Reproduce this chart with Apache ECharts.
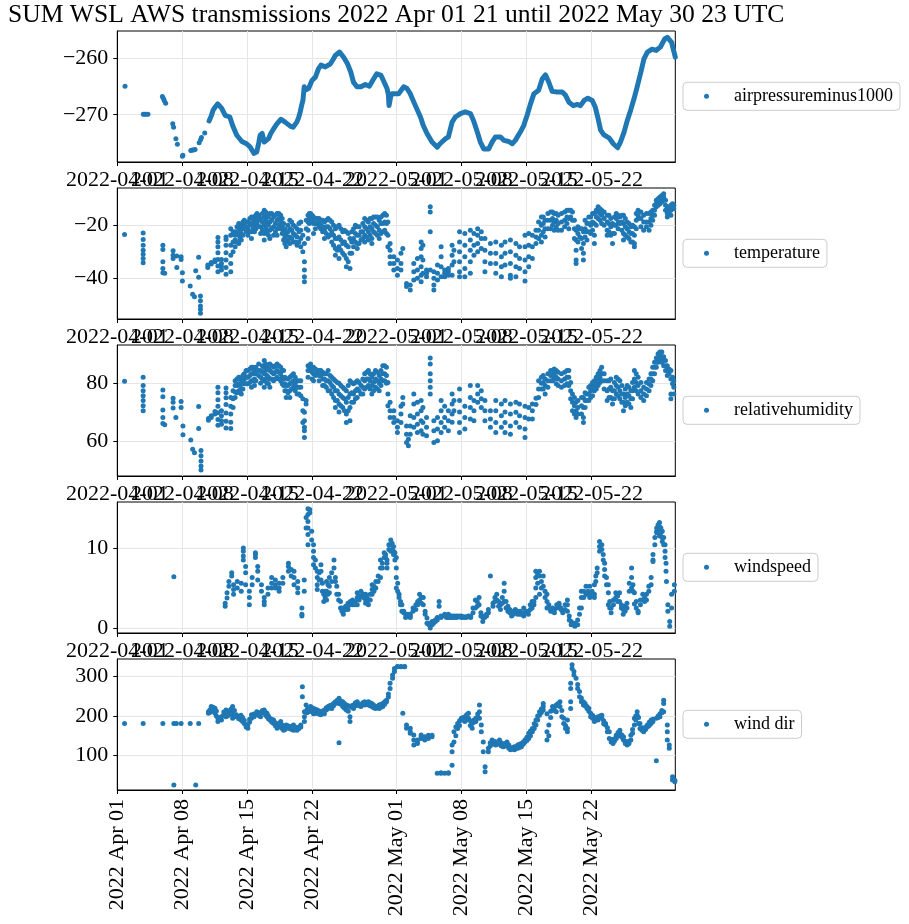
<!DOCTYPE html>
<html>
<head>
<meta charset="utf-8">
<script src="https://cdn.jsdelivr.net/npm/echarts@6/dist/echarts.min.js"></script>
<style>
html,body{margin:0;padding:0;background:#fff;}
#chart{width:909px;height:924px;}
</style>
</head>
<body>
<div id="chart"></div>
<script>
// ---------- DATA (days since 2022-04-01 00:00 UTC) ----------
const titleText = 'SUM WSL AWS transmissions 2022 Apr 01 21 until 2022 May 30 23 UTC';
const tickDays = [0, 7, 14, 21, 30, 37, 44, 51];
const tickLabelsDash = ['2022-04-01','2022-04-08','2022-04-15','2022-04-22','2022-05-01','2022-05-08','2022-05-15','2022-05-22'];
const tickLabelsBottom = ['2022 Apr 01','2022 Apr 08','2022 Apr 15','2022 Apr 22','2022 May 01','2022 May 08','2022 May 15','2022 May 22'];
const seriesNames = ['airpressureminus1000','temperature','relativehumidity','windspeed','wind dir'];

// pressure: sparse early readings [day, value]
const pressureSparse = [
[0.83,-265.0],[2.8,-269.9],[2.95,-269.9],[3.1,-269.9],[3.3,-269.9],[4.85,-266.8],[4.95,-267.1],[5.05,-267.5],[5.2,-268.0],
[5.96,-271.6],[6.05,-272.2],[6.3,-274.2],[6.46,-275.2],[7.0,-277.3],[7.05,-277.1],[7.9,-276.3],[8.05,-276.2],[8.2,-276.2],
[8.36,-276.1],[8.8,-274.9],[8.95,-274.4],[9.05,-274.0],[9.4,-273.2]
];
// pressure: continuous hourly stretch [day, value]
const pressureTrace = [
[9.87,-271.1],[10.1,-270.2],[10.3,-269.2],[10.55,-268.6],[10.8,-268.1],[11.0,-268.4],[11.23,-268.9],[11.6,-270.1],[12.1,-270.4],
[12.4,-271.9],[12.85,-273.6],[13.4,-274.7],[13.9,-275.1],[14.3,-275.7],[14.7,-276.8],[14.85,-277.0],[15.0,-276.5],[15.2,-275.0],
[15.36,-273.6],[15.58,-273.3],[15.8,-274.8],[16.0,-274.6],[16.26,-274.2],[16.5,-273.3],[16.8,-272.5],[17.16,-271.6],[17.6,-270.8],
[17.8,-270.9],[18.05,-271.3],[18.6,-272.0],[18.9,-272.2],[19.3,-271.3],[19.5,-270.5],[19.67,-269.5],[19.8,-268.5],[19.96,-267.5],
[20.1,-265.1],[20.3,-265.6],[20.57,-265.4],[20.93,-264.0],[21.3,-263.4],[21.64,-261.9],[21.9,-261.3],[22.36,-261.6],[22.9,-261.1],
[23.2,-260.3],[23.44,-259.6],[23.9,-259.0],[24.1,-259.3],[24.34,-259.9],[24.77,-261.1],[25.1,-262.5],[25.4,-264.3],[25.77,-265.1],
[26.2,-265.1],[26.67,-264.7],[27.1,-265.0],[27.57,-263.7],[27.9,-262.8],[28.1,-262.9],[28.36,-263.1],[28.7,-264.3],[29.0,-265.4],
[29.15,-266.5],[29.22,-268.4],[29.3,-268.2],[29.4,-266.8],[29.54,-266.3],[29.9,-266.3],[30.25,-266.3],[30.8,-265.1],[31.15,-265.4],
[31.5,-266.3],[32.05,-268.4],[32.6,-270.4],[32.9,-271.9],[33.3,-273.3],[33.84,-274.8],[34.4,-275.7],[34.7,-275.1],[35.3,-274.2],
[35.6,-273.9],[36.0,-271.3],[36.35,-270.4],[36.9,-269.8],[37.4,-269.5],[37.97,-269.8],[38.3,-271.0],[38.7,-273.0],[39.04,-274.8],
[39.4,-276.0],[39.94,-276.0],[40.3,-274.8],[40.66,-273.9],[41.2,-273.9],[41.56,-274.5],[42.1,-274.7],[42.46,-275.1],[42.8,-274.5],
[43.35,-273.0],[43.7,-271.9],[44.07,-270.1],[44.43,-268.1],[44.8,-266.3],[45.3,-265.7],[45.7,-263.7],[46.04,-263.0],[46.4,-264.3],
[46.76,-265.9],[47.3,-266.0],[47.84,-266.0],[48.2,-266.6],[48.56,-267.8],[49.03,-268.4],[49.45,-268.2],[49.8,-268.4],[50.2,-267.5],
[50.6,-267.1],[51.07,-267.5],[51.4,-268.7],[51.7,-270.7],[51.97,-272.7],[52.3,-273.5],[52.9,-274.1],[53.33,-275.1],[53.8,-275.8],
[54.1,-274.8],[54.5,-273.0],[54.84,-271.0],[55.2,-269.2],[55.56,-267.2],[55.9,-265.1],[56.3,-262.5],[56.63,-260.2],[57.0,-259.0],
[57.5,-258.5],[57.96,-258.7],[58.4,-258.1],[58.86,-256.7],[59.15,-256.4],[59.6,-257.3],[60.0,-259.9]
];

// scatter panels: [day, reading, reading, ...]
const temperatureCols = [
[0.78,-23.5],[2.78,-22.9,-25.4,-27.5,-29.4,-30.9,-32.5,-34.1],[4.9,-27.5,-29.1,-33.8,-36.3,-37.9],[5.1,-38.1],
[6.0,-29.6,-31.3,-32.5],[6.4,-31.6,-35.9],[6.86,-31.9,-32.9],[7.0,-37.9,-41.0],[7.84,-42.9],[8.1,-46.0],[8.3,-46.9],
[8.43,-37.1],[8.75,-32.1,-39.6],[8.94,-46.6,-48.4,-50.4,-51.6,-53.1],[9.73,-35.9,-35.0],[10.1,-34.6,-34.0],[10.5,-33.8,-33.1],
[10.82,-24.6,-26.3,-28.1,-30.4,-32.9,-35.4,-37.5],[11.2,-32.9,-34.4,-35.6,-36.9],[11.69,-24.4,-25.4,-27.5,-30.4,-33.1,-35.9,-38.5],
[12.2,-21.3,-23.8,-27.5,-31.3,-34.4,-37.5],[12.67,-22.5,-23.8,-25.6,-28.1],[13.06,-19.4,-21.3,-23.8,-26.9],[13.33,-20.6,-23.1,-25.6],
[13.65,-18.1,-19.4,-20.6],[14.04,-18.8,-21.3,-23.8],[14.43,-16.9,-19.4,-22.5,-25.0],[14.75,-17.5,-20.0,-22.5],[15.02,-15.6,-16.9,-19.4],
[15.41,-17.5,-20.6,-23.1],[15.8,-14.4,-16.9,-20.0,-23.1,-25.6],[16.1,-16.3,-19.4,-22.5],[16.4,-15.6,-18.8,-21.9,-25.0],
[16.8,-16.9,-20.6,-23.8],[17.18,-15.6,-18.1,-21.3,-23.8],[17.57,-16.3,-18.8,-21.3],[17.88,-19.4,-22.5,-25.6],[18.16,-23.8,-26.3,-28.1],
[18.55,-18.1,-21.3,-24.4,-26.9],[18.94,-20.0,-23.1,-26.3],[19.33,-21.3,-24.4,-27.5],[19.73,-18.8,-21.9,-25.0,-28.1],
[20.12,-26.9,-33.8,-36.9,-39.4,-41.3],[20.51,-16.3,-18.8,-21.9,-25.0],[20.78,-15.6,-17.5],[21.1,-16.9,-19.4,-23.1],[21.5,-17.5,-19.4],
[21.88,-18.1,-20.0,-21.3],[22.27,-18.8,-21.9,-25.0],[22.67,-17.5,-20.6,-24.4],[23.06,-18.8,-22.5,-26.3],[23.45,-21.3,-25.0,-28.8,-31.3],
[23.84,-20.0,-24.4,-28.1,-32.5],[24.24,-22.5,-26.9,-30.6],[24.63,-22.5,-27.5,-32.5,-35.6],[25.02,-25.0,-30.6,-36.3],[25.4,-21.3,-25.0,-28.1],
[25.8,-20.6,-23.8,-26.9,-28.8],[26.2,-22.5,-25.6],[26.6,-17.5,-20.6,-23.8,-26.3],[27.0,-18.8,-22.5,-25.6],[27.37,-17.5,-21.3,-25.0,-26.9],
[27.76,-16.9,-20.0,-23.1],[28.16,-18.1,-21.9,-25.0],[28.55,-16.3,-19.4,-22.5],[28.94,-16.3,-19.4,-23.1],[29.33,-26.9,-29.4,-31.9,-34.4],
[29.73,-31.9,-34.4,-36.9],[30.12,-33.1,-36.3,-38.8],[30.5,-30.6,-34.4,-36.9],[30.7,-28.8],[31.1,-41.9,-43.1],[31.5,-42.5,-44.4],
[31.88,-34.4,-37.5,-40.6],[32.27,-32.5,-36.9,-40.0],[32.67,-26.3,-28.8,-31.9,-35.6,-38.8,-41.3],[32.86,-27.5,-33.1,-38.1],
[33.25,-36.9,-38.1,-39.4],[33.65,-13.1,-15.0,-22.5,-36.9],[34.04,-37.5,-40.0,-42.5,-44.4],[34.43,-35.0,-38.1,-40.6],
[34.82,-28.1,-31.9,-35.6,-39.4],[35.2,-36.9,-38.1,-39.4],[35.6,-36.3,-37.5,-38.8],[36.0,-27.5,-31.3,-35.0,-38.8],[36.2,-29.4,-33.8],
[36.8,-22.5,-26.3,-30.0,-33.8,-37.5,-39.4],[37.37,-23.1,-27.5,-31.9,-36.3,-39.4],[37.96,-21.9,-25.6,-29.4,-33.8,-38.1],
[38.35,-23.1,-27.5,-31.3],[38.75,-21.3,-23.8,-26.9,-30.0],[39.14,-22.5,-25.0,-28.8],[39.53,-25.0,-29.4,-33.8,-37.5],
[40.12,-26.9,-30.6,-34.4],[40.7,-26.3,-30.6,-34.4,-38.1],[41.3,-27.5,-31.9,-35.6,-39.4],[41.69,-26.3,-30.6,-35.0],
[42.27,-25.6,-30.0,-34.4,-38.8,-40.0],[42.86,-26.9,-31.3,-35.6,-39.4],[43.25,-28.1,-32.5,-36.3],[43.84,-23.8,-28.1,-33.1,-37.5,-41.0],
[44.24,-23.1,-27.5,-31.9,-35.6],[44.63,-23.8,-28.1,-32.5],[45.02,-21.9,-24.4,-26.9],[45.6,-16.9,-20.0,-23.8,-26.3],[46.0,-18.1,-21.3,-24.4],
[46.6,-15.0,-18.1,-21.3],[46.98,-15.6,-18.8,-21.9],[47.76,-15.6,-18.8,-21.9],[48.55,-14.4,-17.5,-21.3],[48.94,-15.0,-18.1],
[49.33,-21.9,-25.6,-29.4,-33.1,-34.4],[49.73,-21.3,-24.4],[50.12,-22.5,-26.9,-30.6,-33.1],[50.5,-19.4,-22.5,-25.6],[50.9,-16.9,-20.0,-23.1],
[51.3,-15.6,-19.4,-23.8,-26.9],[51.7,-13.1,-15.0,-17.5],[52.08,-14.4,-16.3,-19.4],[52.67,-16.3,-18.8,-21.9,-23.8],[53.06,-17.5,-20.6,-23.8],
[53.25,-19.4,-23.1,-26.9],[53.65,-15.6,-17.5,-20.0],[54.04,-16.9,-19.4],[54.43,-16.3,-19.4,-23.1,-25.6],[54.82,-18.8,-21.3,-24.4],
[55.22,-20.6,-23.1,-26.3],[55.6,-20.6,-23.8,-26.9,-28.1],[56.0,-14.4,-16.3,-17.5],[56.6,-16.3,-18.8,-21.9],[57.18,-15.6,-18.8,-21.9],
[57.57,-14.4,-16.3,-18.1],[57.96,-10.6,-11.9,-13.1],[58.35,-9.4,-10.6,-11.9],[58.75,-8.2,-9.4,-10.6],[59.14,-13.8,-15.6,-16.9],
[59.53,-12.5,-14.4,-16.3],[59.84,-12.5,-13.8]
];
// further temperature readings in the dense stretches
const temperatureColsB = [
[12.45,-22.5,-26.3,-30.0],[12.87,-20.6,-23.1,-26.3],[13.2,-20.0,-22.5,-25.0],[13.5,-18.8,-21.3,-23.8],[13.85,-18.8,-20.6,-22.5],
[14.25,-17.5,-20.0,-22.5],[14.6,-16.9,-18.8,-21.3],[14.9,-16.3,-18.8,-21.3],[15.2,-16.3,-18.1,-20.6],[15.6,-15.6,-18.8,-21.9],
[15.95,-15.0,-18.1,-21.3],[16.25,-16.9,-20.0,-23.8],[16.6,-15.6,-18.1,-21.3],[17.0,-16.3,-19.4,-22.5],[17.38,-15.6,-17.5,-20.0],
[17.73,-17.5,-20.0,-23.1],[18.02,-21.3,-24.4,-26.9],[18.35,-20.0,-22.5,-25.6],[18.75,-18.8,-21.9,-25.0],[19.13,-20.6,-23.8,-26.3],
[19.53,-19.4,-22.5,-26.3],[19.95,-23.8,-30.0],[20.32,-18.1,-21.3],[20.65,-15.6,-17.5,-19.4],[20.95,-16.3,-18.1],[21.3,-17.5,-19.4,-21.3],
[21.7,-17.5,-18.8,-20.6],[22.08,-18.1,-20.6,-22.5],[22.47,-18.1,-20.6,-23.1],[22.87,-18.1,-21.3,-23.8],[23.25,-20.0,-23.8,-27.5],
[23.65,-20.6,-25.0,-29.4],[24.04,-21.3,-25.6,-29.4],[24.43,-21.9,-26.3,-31.3],[24.83,-23.1,-28.1,-33.8],[25.2,-22.5,-26.3,-30.6],
[25.6,-20.0,-23.1,-26.3],[26.0,-20.6,-23.8,-26.9],[26.4,-19.4,-22.5,-25.0],[26.8,-18.1,-21.3,-24.4],[27.18,-17.5,-20.6,-23.8],
[27.56,-16.9,-19.4,-22.5],[27.96,-16.9,-20.6,-23.8],[28.35,-16.9,-19.4,-23.1],[28.75,-15.6,-18.8,-21.9],[29.1,-18.8,-23.8,-28.1],
[45.3,-18.8,-21.9,-25.0],[45.8,-16.9,-19.4,-22.5],[46.3,-15.6,-18.1,-21.3],[46.8,-15.0,-17.5,-20.0],[47.2,-15.6,-18.1,-20.6],
[47.4,-16.3,-19.4,-21.9],[48.1,-15.0,-18.1,-20.6],[48.35,-14.4,-16.9,-19.4],[48.75,-14.4,-16.9],[49.15,-18.1,-21.3,-25.0],
[49.53,-20.6,-23.1,-26.3],[49.92,-21.3,-25.0,-28.8],[50.3,-18.1,-21.3,-24.4],[50.7,-16.9,-19.4,-22.5],[51.1,-15.6,-18.8,-21.9],
[51.5,-14.4,-16.9,-20.0],[51.9,-13.8,-15.6,-18.1],[52.35,-15.0,-17.5,-20.0],[52.87,-16.3,-19.4,-22.5],[53.45,-16.9,-20.0,-23.1],
[53.85,-16.3,-18.8,-21.3],[54.25,-16.3,-18.8,-21.9],[54.62,-17.5,-20.6,-23.8],[55.02,-19.4,-22.5,-25.0],[55.4,-20.0,-23.1,-26.3],
[55.8,-15.6,-18.1,-21.3],[56.3,-15.0,-17.5,-20.6],[56.9,-15.6,-18.8,-20.6],[57.38,-15.0,-17.5,-20.0],[57.77,-12.5,-14.4,-16.3],
[58.15,-10.0,-11.3,-12.5],[58.55,-8.8,-10.0,-11.3],[58.95,-10.6,-12.5,-14.4],[59.33,-13.1,-15.0],[59.7,-11.9,-13.1]
];
const humidityCols = [
[0.78,80.7],[2.78,82.1,79.2,77.4,75.7,74.0,72.2,70.5],[4.9,77.7,75.3,70.7,68.1,66.0],[5.1,65.6],[6.0,74.8,73.4,71.4],[6.3,68.1],
[6.86,73.7,71.6],[7.06,65.2,62.1],[7.9,60.3],[8.1,57.1],[8.3,55.9],[8.75,71.9,64.3],[9.0,56.7,54.8,53.0,51.3,49.9],[9.8,67.2,67.8],
[10.1,68.1,68.7],[10.5,69.3,70.2],[10.82,78.6,76.7,74.3,72.0,69.8,67.4,65.4],[11.2,70.5,68.7,67.0,65.8],
[11.69,78.4,76.7,75.0,72.6,69.7,66.8,64.5],[12.2,75.1,72.0,69.3,66.5,64.3],[12.67,80.9,79.2,77.0,75.1],[13.06,82.1,79.8,77.4],
[13.33,80.0,78.0,76.3],[13.65,83.3,81.5,79.8],[14.04,84.4,82.1,79.8],[14.43,85.6,83.3,80.9,78.6],[14.75,84.4,81.5,79.2],
[15.2,86.7,84.4,82.7],[15.41,84.4,82.1,80.0],[15.8,87.9,85.6,83.3,80.9,78.6],[16.1,85.6,82.7,80.0],[16.4,86.7,84.4,81.5,78.6],
[16.8,85.6,83.3,80.9],[17.18,86.7,84.4,82.1],[17.57,85.6,83.3,80.9],[17.88,84.4,81.5,79.2],[18.16,79.2,77.4,75.1],
[18.55,82.1,79.8,77.4,75.1],[18.94,83.3,80.9,78.6],[19.33,80.9,78.6,76.3],[19.73,80.9,78.6,75.7],[20.12,69.9,67.0,64.7,63.5,61.2],
[20.3,74.0,72.8],[20.51,86.1,84.4,82.1],[20.78,86.7,85.0],[21.1,85.6,83.3,80.9],[21.5,84.4,83.3],[21.88,84.4,82.7],[22.27,83.3,81.5,79.2],
[22.67,84.4,80.9,77.4],[23.06,82.1,79.2,76.3],[23.45,80.9,77.4,74.0,71.6],[23.84,80.0,76.3,72.8,70.0],[24.24,78.6,75.1,71.6],
[24.63,77.4,73.4,69.3,66.4],[25.02,80.9,76.3,71.6,67.0],[25.4,79.8,76.3,73.4],[25.8,80.9,78.0,75.1],[26.2,79.2,76.3],[26.6,83.3,80.9,78.0],
[27.0,84.4,81.5,79.2],[27.37,82.1,79.2,76.3],[27.76,84.4,81.5,78.6],[28.16,82.7,80.0,77.4],[28.55,86.1,83.3,80.9],[28.94,85.6,82.7,80.0],
[29.33,73.4,70.5,68.1],[29.73,70.5,68.1,66.4],[30.12,67.0,64.7,62.9],[30.5,72.0,69.3,66.4],[30.7,75.1,72.8],[31.1,65.2,62.3,59.4],
[31.3,58.3,60.6],[31.5,68.7,65.2,62.3],[31.88,76.3,72.8,68.1,64.7],[32.27,73.4,69.3,65.8,62.9],[32.67,74.0,70.5,67.0,63.5],
[32.86,71.6,66.4,62.3],[33.25,68.1,64.7,61.8],[33.65,88.8,86.7,83.3,80.9,78.6,76.3],[34.04,67.0,63.5,59.4],[34.43,68.1,64.1,60.0],
[34.82,74.0,70.5,66.4,62.9],[35.2,72.0,68.1,64.7],[35.6,70.5,67.0,63.5],[36.0,76.3,72.8,69.3,66.5],[36.2,74.0,70.5],
[36.8,78.0,74.0,70.0,66.4,62.9],[37.37,72.0,68.1,64.1],[37.96,79.2,75.1,71.6,67.6],[38.35,74.0,70.5,67.0],[38.75,79.2,76.3,73.4],
[39.14,77.4,74.6,71.6],[39.53,74.0,70.5,67.0],[40.12,70.5,67.6,64.7],[40.7,74.0,70.5,66.4,62.9],[41.3,72.8,68.7,64.7],
[41.69,74.0,70.0,66.4,62.9],[42.27,72.8,69.3,65.2,62.3],[42.86,73.4,69.9,66.4],[43.25,72.8,68.7,64.7],[43.84,72.0,68.1,64.1,61.2],
[44.24,71.6,67.6],[44.63,72.8,70.5,67.6],[45.02,74.8,72.6],[45.6,82.1,80.0,78.0],[46.0,81.5,79.2,76.3],[46.6,84.4,82.7,80.9],
[46.98,85.0,83.3,81.5],[47.76,83.3,80.9,78.6],[48.55,84.4,82.1,79.2],[48.94,76.3,73.4,70.5],[49.33,73.4,70.5,68.1],
[50.12,75.1,71.6,68.1,66.4],[50.5,76.3,74.0],[50.9,79.2,77.4,75.1],[51.3,80.9,79.2,77.4],[51.7,83.3,81.5,79.2],[52.08,85.6,83.3,80.9],
[52.67,80.9,77.4,74.0],[53.06,81.5,78.6,75.1],[53.25,77.4,74.6,72.8],[53.65,82.1,79.2,76.3],[54.04,80.9,77.4,74.6],[54.43,76.3,73.4,70.5],
[54.82,79.2,76.3,73.4],[55.22,77.4,74.6,71.6],[55.6,84.4,81.5,78.6],[56.0,82.1,79.2,76.3],[56.6,78.6,76.3,74.0],[57.18,81.5,79.8,77.4],
[57.57,85.6,83.3,80.9],[57.96,88.8,87.3,85.6],[58.35,90.9,89.7,88.2],[58.75,89.2,87.9,86.1],[59.14,86.1,84.4,82.7],
[59.53,84.4,81.5,76.3,74.6],[59.84,80.9,78.6,76.3]
];
const humidityColsB = [
[12.45,77.4,74.6,71.6],[12.87,81.5,79.2,76.7],[13.2,81.5,79.2,77.4],[13.5,82.7,80.3,78.0],[13.85,84.4,82.1,79.8],[14.25,85.0,82.7,80.3],
[14.6,85.6,83.3,80.9],[14.9,85.6,83.3,80.9],[15.6,86.1,83.8,81.5],[15.95,86.7,84.4,81.5],[16.25,85.0,82.1,79.8],[16.6,86.1,83.8,81.5],
[17.0,86.1,83.8,81.5],[17.38,86.1,83.8,81.5],[17.73,84.4,82.1,79.8],[18.02,82.1,79.8,77.4],[18.35,81.5,79.2,76.7],[18.75,82.7,80.3,78.0],
[19.13,82.1,79.8,77.4],[19.53,80.9,78.6,76.3],[19.95,74.6,70.5,66.4],[20.65,86.1,84.4],[20.95,85.6,83.8,81.5],[21.3,85.0,82.7],
[21.7,84.4,82.7,80.9],[22.08,83.8,81.5,79.2],[22.47,83.3,80.9,78.6],[22.87,82.7,80.3,77.4],[23.25,81.5,78.6,75.1],[23.65,80.3,77.4,74.0],
[24.04,79.2,75.7,72.2],[24.43,78.0,74.6,70.5],[24.83,79.2,75.1,70.5],[25.2,80.3,76.7,73.4],[25.6,80.3,77.4,74.6],[26.0,80.3,77.4],
[26.4,81.5,78.6,76.3],[26.8,83.8,81.5,78.6],[27.18,83.3,80.9,78.0],[27.56,83.3,80.3,77.4],[27.96,83.8,80.9,78.0],[28.35,84.4,81.5,79.2],
[28.75,86.1,83.3,80.9],[29.1,80.3,76.3,72.2],[45.3,80.9,78.0,75.1],[45.8,82.7,80.3,78.0],[46.3,83.3,80.9,78.6],[46.8,84.4,82.7,80.9],
[47.2,84.4,82.1,79.8],[47.4,83.8,81.5,79.2],[48.1,83.8,81.5,79.2],[48.35,84.4,82.1,79.8],[48.75,80.3,77.4,74.6],[49.15,75.1,72.2,69.3],
[49.53,74.0,71.6,69.3],[49.92,75.1,72.2,69.3],[50.3,76.7,74.0,71.6],[50.7,78.6,76.3,74.0],[51.1,80.3,78.0,75.7],[51.5,82.1,80.3,78.0],
[51.9,84.4,82.1,80.3],[52.35,83.3,80.9,78.0],[52.87,80.9,78.0,75.1],[53.45,80.3,77.4,74.6],[53.85,81.5,78.6,75.7],[54.25,79.2,76.3,73.4],
[54.62,78.0,75.1,72.2],[55.02,78.6,75.7,72.8],[55.4,80.3,77.4,74.6],[55.8,83.3,80.3,77.4],[56.3,80.3,77.4,75.1],[56.9,80.3,78.0,75.7],
[57.38,83.3,81.5,79.2],[57.77,87.3,85.6,83.3],[58.15,90.3,88.8,87.3],[58.55,90.9,89.2,87.3],[58.95,87.9,86.1,84.4],[59.33,85.0,83.3],
[59.7,82.1,79.8]
];
const windspeedCols = [
[6.08,6.4],[11.6,2.7,3.1],[11.8,3.75,4.4],[12.0,5.2,5.8],[12.3,6.5,6.9],[12.5,4.2,4.8,5.4],[12.9,5.8,5.0],[13.33,4.6,5.6],
[13.55,10.0,9.6,9.0,8.5],[13.8,7.7,6.9,5.4],[14.2,4.6,3.8,2.9],[14.5,6.3,5.4],[14.85,9.4,9.2,8.8],[15.1,7.7,7.1,6.0],[15.5,5.4,4.6],
[15.8,3.8,3.3,2.9],[16.2,5.0,4.2],[16.6,5.0,5.6,6.3],[17.0,6.0,5.4,5.0],[17.4,5.6,5.0,4.6],[17.8,6.3,5.6],[18.4,8.1,7.7,7.1],
[18.7,6.5,7.3],[19.0,7.1,6.3,5.4],[19.4,5.8,5.0,4.4],[19.85,2.5,1.7,1.5],[20.1,4.6,6.0],[20.5,14.9,14.2,13.3,12.5,11.7,10.4],
[20.7,14.8,14.4],[21.1,10.4,9.6,8.8,7.9],[21.5,7.1,6.3,5.4,4.8],[21.9,7.9,7.1,6.0],[22.2,4.2,3.3],[22.5,5.8,4.6,3.5],[22.8,6.3,5.2,4.4],
[23.3,8.5,7.5],[23.6,5.2,4.2],[24.0,3.3,2.5],[24.3,1.7,2.1],[24.8,2.3,2.7,3.1],[25.3,2.9,3.5],[25.8,2.9,3.8,4.4],[26.2,4.6,4.0],
[26.7,4.2,3.5,3.1],[27.0,3.5,2.9],[27.4,4.2,4.8,5.4],[27.8,5.0,5.8],[28.3,6.3,7.5,8.5],[28.7,8.8,9.4],[29.0,8.5,8.1,7.5],
[29.4,11.0,10.4,9.6],[29.7,10.2,9.6,9.2],[30.0,8.8,7.5,6.3,5.0],[30.3,4.2,3.8],[30.6,2.9,2.1],[31.0,1.7,1.3],[31.5,1.7,1.3,1.5],
[32.1,2.9,2.3],[32.5,3.5,4.2],[32.9,2.9,3.8],[33.3,1.25,0.6],[33.65,0.0,0.4],[34.0,0.8,0.6],[34.4,1.0,1.3],[34.6,3.3,2.7],
[35.2,1.7,1.5],[35.6,1.3,1.7],[36.0,1.3,1.5],[36.5,1.5,1.3],[37.0,1.5,1.3],[37.5,1.3,1.4],[38.0,1.5,1.3],[38.5,2.5,3.5],[38.9,3.8,2.9],
[39.3,0.8,1.3],[39.7,1.5,1.7],[40.12,6.5],[40.4,2.7,3.1],[40.8,4.2,3.5],[41.2,2.9,2.3],[41.6,5.6,4.6,3.3],[42.0,2.7,2.1],[42.4,2.1,1.5],
[42.8,2.3,1.9],[43.3,2.1,1.7],[43.7,1.5,2.5],[44.2,2.1,1.7],[44.6,2.5,3.3],[45.0,3.8,5.0,6.3,7.1],[45.4,7.1,6.5,4.2],[45.8,6.5,5.2],
[46.2,4.2,2.5,3.3],[46.6,2.1,2.3],[47.0,2.3,1.9],[47.5,3.1,2.9],[47.9,2.1,1.9],[48.4,2.9,3.5,2.1],[48.8,0.8,0.4],[49.2,0.2,0.6],
[49.5,0.4,1.0],[49.9,2.5,3.8,4.6],[50.4,4.2,5.2],[50.8,3.8,5.2],[51.3,3.8,4.2,5.4],[51.6,6.9,7.5],[51.85,9.6,10.2,10.8],[52.1,10.4,9.8],
[52.4,8.1,7.3,6.5],[52.8,5.4,4.4,2.9],[53.1,1.9,2.5],[53.6,4.4,3.8],[54.0,3.3,4.4],[54.4,2.3,1.7],[54.8,3.1,2.5],[55.3,7.5,6.3,5.0],
[55.6,4.4,3.0],[56.0,2.1,1.9],[56.5,4.2,3.5],[56.9,3.5,4.2],[57.4,6.3,5.4],[57.6,9.2,8.5,8.3],[58.0,11.9,12.5,12.1],[58.3,12.7,13.2,11.5],
[58.6,12.1,11.3,10.8],[58.9,10.4,9.6,8.8],[59.05,5.8],[59.2,2.9,2.1],[59.4,0.8,0.2],[59.6,2.5,4.2],[59.9,5.4,4.6]
];
const windspeedColsB = [
[20.3,12.5,13.8],[20.9,12.1,11.0],[21.3,8.5,7.5],[21.7,6.9,6.0],[22.05,5.6,4.6],[22.35,4.6,3.8],[22.65,5.4,4.2],[23.05,6.9,5.8],
[23.45,6.3,5.8],[23.8,4.2,3.5],[24.15,2.5,2.1],[24.55,2.3,2.7],[25.05,2.9,3.3],[25.55,3.3,2.9],[26.0,4.0,3.5],[26.45,4.2,3.8],
[26.85,3.8,3.3],[27.2,3.5,4.2],[27.6,4.6,5.2],[28.05,5.8,6.5],[28.5,7.5,8.1],[28.85,9.2,8.8],[29.2,9.8,10.4],[29.55,10.6,9.8],
[29.85,9.4,8.5],[30.15,5.6,4.6],[30.45,3.3,2.9],[30.8,2.1,1.9],[31.25,1.5,1.7],[31.8,2.1,2.5],[32.3,3.3,2.9],[32.7,3.8,3.1],
[33.1,2.1,1.7],[33.5,0.6,0.4],[33.85,0.8,0.4],[34.2,0.8,1.0],[34.8,1.5,1.3],[35.4,1.5,1.3],[35.8,1.5,1.3],[36.25,1.3,1.5],
[36.75,1.4,1.5],[37.25,1.4,1.3],[37.75,1.4,1.5],[38.25,1.9,2.5],[38.7,3.3,2.7],[39.1,1.9,1.5],[39.5,1.3,1.5],[39.9,1.9,2.3],
[40.6,3.3,3.8],[41.0,3.3,2.7],[41.4,3.8,3.1],[41.8,3.3,2.5],[42.2,2.3,1.9],[42.6,2.1,1.7],[43.05,2.1,1.7],[43.5,1.9,1.7],
[43.9,2.1,1.9],[44.4,2.3,2.9],[44.8,3.3,2.9],[45.2,5.6,6.7],[45.6,5.8,5.0],[46.0,4.6,3.8],[46.4,2.9,2.5],[46.8,2.1,2.5],
[47.25,2.5,2.9],[47.7,2.5,2.3],[48.15,2.3,2.9],[48.6,1.5,1.0],[49.0,0.4,0.6],[49.7,1.7,2.5],[50.15,3.8,4.6],[50.6,4.6,4.2],
[51.05,4.6,4.2],[51.45,5.8,6.5],[52.25,9.2,8.5],[52.6,6.3,5.4],[52.95,3.3,2.5],[53.35,2.9,3.5],[53.8,4.0,3.3],[54.2,2.9,2.5],
[54.6,2.1,2.7],[55.05,4.6,5.6],[55.45,5.4,4.6],[55.8,3.3,2.5],[56.25,2.9,3.5],[56.7,3.8,3.3],[57.15,4.6,5.2],[57.8,10.4,11.3],
[58.15,12.3,12.9],[58.45,12.5,11.9],[58.75,11.3,10.4],[59.0,8.1,7.1]
];
const winddirCols = [
[0.78,181],[2.78,181],[4.9,181],[6.08,181,24.6],[6.35,181],[6.86,181],[7.84,181],[8.43,24.6],[8.75,181],[9.8,211,207],[10.1,224,218],
[10.5,220,207],[10.82,194,186],[11.2,190,198],[11.69,215,207,198],[12.0,211,203],[12.4,224,211,194],[12.8,203,198],[13.3,202,190],
[13.65,189,181],[14.04,169,177],[14.43,194,203],[15.0,211,203],[15.4,207,198],[15.8,211,215],[16.1,207,198],[16.4,194,190],
[16.8,190,181],[17.18,177,169],[17.57,186,177],[17.88,169,164],[18.16,177,172],[18.55,172,168],[18.94,177,164],[19.33,168,164],
[19.73,177,172],[19.9,274.6,249.2],[20.12,211,198,186],[20.3,228],[20.51,211,220],[20.78,224,215],[21.1,219,206],[21.5,215,207],
[21.88,211,203],[22.27,206,215],[22.67,224,219],[23.06,219,228],[23.45,232,236],[23.84,240,245,232,132.2],[24.24,236,224],
[24.63,228,215],[25.02,224,198,186],[25.4,219,228],[25.8,232,236],[26.2,228,224],[26.6,232,236,228],[27.0,236,228],[27.37,232,224],
[27.76,224,219],[28.16,219,228],[28.55,224,232],[28.94,236,240],[29.33,270,283],[29.6,296,304],[29.8,313,321],[30.12,325,326],
[30.5,325,326],[30.7,207],[30.9,325,326],[31.1,177,169],[31.5,160,169,156],[31.88,152,139,126],[32.27,130,134,139],[32.67,143,147,152],
[33.06,139,147],[33.45,143,151],[33.84,151,147],[34.4,54.2],[34.8,54.2,56],[35.2,54.2],[35.6,54.2,56],[36.0,75,109,126],[36.2,134,160],
[36.6,168,181],[37.0,190,194],[37.37,198,186],[37.76,207,194],[38.16,181,169],[38.55,186,194],[38.94,228,211,194],[39.14,177,160],
[39.35,134,109],[39.55,71.2,58.5],[39.9,109,118],[40.3,130,139],[40.7,126,134],[41.1,139,130],[41.5,126,122],[41.9,130,134],
[42.27,118,114],[42.7,122,114],[43.06,118,126],[43.45,122,130],[43.84,134,139],[44.24,143,156],[44.63,160,168],[45.02,177,190],
[45.4,202,211],[45.8,215,224,232],[46.2,206,160,139],[46.4,177,150],[46.8,215,224],[47.2,228,211],[47.6,236,224],[48.0,194,181],
[48.4,160,168,190],[48.75,283,270,236,219],[48.9,330,321],[49.1,313,304],[49.33,296],[49.7,262,249],[50.12,236,228],[50.5,224,219],
[50.9,207,198],[51.3,194,186],[51.7,198,190],[52.1,194,202],[52.5,181,177],[52.9,160,143],[53.3,130,139],[53.65,143,151],
[54.04,156,164],[54.43,147,139],[54.82,130,126],[55.22,139,151],[55.6,177,194],[55.9,202,211],[56.2,181,168],[56.6,168,160],
[57.0,172,177],[57.4,181,190],[57.96,86.4,194],[58.35,198,206],[58.75,211,232,240],[59.14,177,160,139],[59.35,126,118],
[59.7,45.8,37.3],[59.95,33.1,37]
];
const winddirColsB = [
[9.95,215,209],[10.3,222,212],[10.65,213,200],[11.0,192,196],[11.45,203,210],[11.85,209,200],[12.2,217,205],[12.6,214,200],
[13.05,199,193],[13.47,196,186],[13.85,178,172],[14.23,185,192],[14.7,205,198],[15.2,209,201],[15.6,208,214],[15.95,209,202],
[16.25,200,193],[16.6,192,185],[17.0,183,175],[17.38,181,172],[17.73,177,168],[18.02,172,166],[18.35,175,169],[18.75,174,166],
[19.13,172,165],[19.53,172,168],[20.4,216,208],[20.65,219,212],[20.95,221,211],[21.3,217,207],[21.7,213,205],[22.08,209,213],
[22.47,215,221],[22.87,222,227],[23.25,226,232],[23.65,236,240],[24.04,238,230],[24.43,232,220],[24.83,226,212],[25.2,222,226],
[25.6,226,234],[26.0,230,226],[26.4,230,234],[26.8,234,230],[27.18,234,226],[27.56,228,221],[27.96,221,225],[28.35,222,230],
[28.75,230,236],[29.15,248,256],[36.4,150,172],[36.8,176,188],[37.2,196,190],[37.56,203,190],[37.96,188,176],[38.35,184,190],
[38.75,205,195],[40.1,124,132],[40.5,128,136],[40.9,134,128],[41.3,132,124],[41.7,124,130],[42.1,126,118],[42.5,120,116],
[42.9,118,122],[43.25,120,128],[43.65,128,134],[44.04,138,146],[44.43,150,162],[44.83,168,180],[45.2,190,200],[45.6,209,218],
[46.6,196,212],[47.0,222,214],[47.4,232,226],[47.8,214,198],[48.2,176,168],[49.5,280,270],[49.9,246,236],[50.3,232,226],
[50.7,220,212],[51.1,202,194],[51.5,190,196],[51.9,196,200],[52.3,188,180],[52.7,170,160],[53.1,140,134],[53.45,136,142],
[53.85,150,158],[54.25,152,146],[54.62,136,130],[55.02,130,136],[55.4,156,166],[55.75,190,200],[56.05,196,180],[56.4,170,164],
[56.8,166,172],[57.2,176,184],[57.6,186,192],[58.15,196,200],[58.55,208,214]
];
// y-axis extents and ticks per panel
const yMins = [-278.3, -55.3, 47.8, -0.63, 11.9];
const yMaxs = [-255.3, -6.0, 93.3, 15.75, 344.9];
const yTicks = [[-270, -260], [-40, -20], [60, 80], [0, 10], [100, 200, 300]];

// ---------- BUILD ----------
const T0 = Date.UTC(2022, 3, 1);
const DAY = 86400000;
const toTime = d => T0 + d * DAY;
const tickTimes = tickDays.map(toTime);
const evenTicks = tickTimes.filter((t, i) => i % 2 === 0);
const oddTicks = tickTimes.filter((t, i) => i % 2 === 1);
const pairs = arr => arr.map(p => [toTime(p[0]), p[1]]);
const flatCols = (...sets) => {
  const out = [];
  sets.forEach(cols => cols.forEach(c => { for (let i = 1; i < c.length; i++) out.push([toTime(c[0]), c[i]]); }));
  return out;
};
const labelFor = (labels) => (val) => {
  let best = -1, bd = Infinity;
  tickTimes.forEach((t, i) => { const d = Math.abs(t - val); if (d < bd) { bd = d; best = i; } });
  return bd < DAY / 2 ? labels[best] : '';
};

const FONT = 'Liberation Serif';
const BLUE = '#1f77b4';
const tops = [31, 188, 345, 502, 659];
const H = 131;

const labelBase = (bottom) => ({
  show: true, formatter: labelFor(bottom ? tickLabelsBottom : tickLabelsDash),
  showMinLabel: true, showMaxLabel: true, hideOverlap: false,
  rotate: bottom ? 90 : 0, margin: bottom ? 9 : 7, color: '#000', fontFamily: FONT, fontSize: 22
});

const grids = [], xAxes = [], yAxes = [], legends = [];
for (let i = 0; i < 5; i++) {
  grids.push({ left: 117.3, width: 558, top: tops[i], height: H, show: true, borderColor: '#000', borderWidth: 1, backgroundColor: 'transparent', containLabel: false });
  const bottom = i === 4;
  xAxes.push({
    type: 'value', gridIndex: i, position: 'bottom', min: toTime(0), max: toTime(60), scale: true,
    axisLine: { show: true, onZero: false, lineStyle: { color: '#000', width: 1 } },
    axisTick: { show: true, inside: false, length: 4, customValues: tickTimes, lineStyle: { color: '#000' } },
    axisLabel: Object.assign(labelBase(bottom), { customValues: bottom ? tickTimes : evenTicks }),
    splitLine: { show: true, lineStyle: { color: '#e6e6e6', width: 1 } }
  });
  yAxes.push({
    type: 'value', gridIndex: i, min: yMins[i], max: yMaxs[i], scale: true,
    axisLine: { show: true, onZero: false, lineStyle: { color: '#000', width: 1 } },
    axisTick: { show: true, inside: false, length: 4, customValues: yTicks[i], lineStyle: { color: '#000' } },
    axisLabel: {
      customValues: yTicks[i], margin: 9, color: '#000', fontFamily: FONT, fontSize: 22,
      formatter: v => (v < 0 ? '\u2212' + Math.abs(v) : String(v))
    },
    splitLine: { show: true, lineStyle: { color: '#e6e6e6', width: 1 } }
  });
  legends.push({
    data: [seriesNames[i]], left: 683, top: tops[i] + H / 2 - 14.2, orient: 'vertical',
    icon: 'circle', itemWidth: 5, itemHeight: 5, itemGap: 0,
    padding: [5, 7, 5, 21], borderColor: '#cccccc', borderWidth: 1, borderRadius: 4,
    backgroundColor: '#fff', selectedMode: false,
    textStyle: { fontFamily: FONT, fontSize: 18, color: '#000', padding: [0, 0, 0, 20] }
  });
}
// label-only companion axes for the upper four panels (the odd-week tick labels)
for (let i = 0; i < 4; i++) {
  xAxes.push({
    type: 'value', gridIndex: i, position: 'bottom', offset: 0, min: toTime(0), max: toTime(60), scale: true,
    axisLine: { show: false }, axisTick: { show: false }, splitLine: { show: false },
    axisLabel: Object.assign(labelBase(false), { customValues: oddTicks })
  });
}

const dotStyle = { color: BLUE, opacity: 1 };
const series = [
  { name: seriesNames[0], type: 'scatter', xAxisIndex: 0, yAxisIndex: 0, data: pairs(pressureSparse), symbolSize: 5, itemStyle: dotStyle },
  { name: seriesNames[0], type: 'line', xAxisIndex: 0, yAxisIndex: 0, data: pairs(pressureTrace), showSymbol: false, symbol: 'circle',
    lineStyle: { color: BLUE, width: 5, cap: 'round', join: 'round' }, itemStyle: dotStyle },
  { name: seriesNames[1], type: 'scatter', xAxisIndex: 1, yAxisIndex: 1, data: flatCols(temperatureCols, temperatureColsB), symbolSize: 5, itemStyle: dotStyle },
  { name: seriesNames[2], type: 'scatter', xAxisIndex: 2, yAxisIndex: 2, data: flatCols(humidityCols, humidityColsB), symbolSize: 5, itemStyle: dotStyle },
  { name: seriesNames[3], type: 'scatter', xAxisIndex: 3, yAxisIndex: 3, data: flatCols(windspeedCols, windspeedColsB), symbolSize: 5, itemStyle: dotStyle },
  { name: seriesNames[4], type: 'scatter', xAxisIndex: 4, yAxisIndex: 4, data: flatCols(winddirCols, winddirColsB), symbolSize: 5, itemStyle: dotStyle }
];

const chart = echarts.init(document.getElementById('chart'), null, { renderer: 'canvas' });
chart.setOption({
  animation: false,
  backgroundColor: '#fff',
  title: { text: titleText, left: 8, top: 2, padding: 0,
    textStyle: { fontFamily: FONT, fontSize: 25.6, fontWeight: 'normal', color: '#000' } },
  legend: legends,
  grid: grids,
  xAxis: xAxes,
  yAxis: yAxes,
  series: series
});
</script>
</body>
</html>
